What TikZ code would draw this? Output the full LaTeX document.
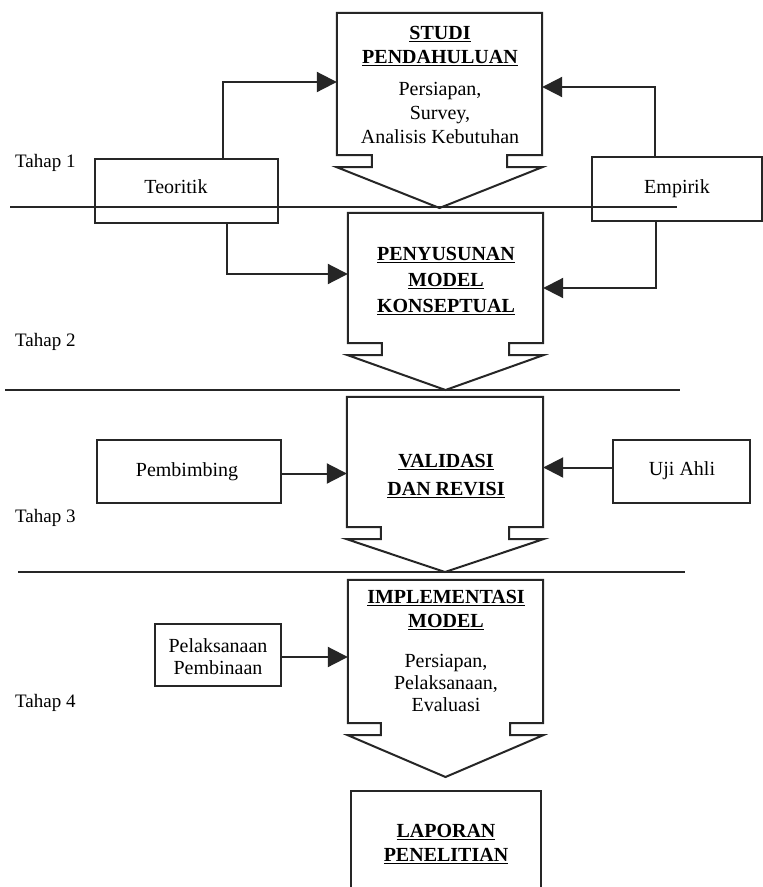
\documentclass[tikz,border=0pt]{standalone}
\usepackage{fontspec}
\setmainfont{Liberation Serif}
\usetikzlibrary{arrows.meta,calc}
\tikzset{
  stroke/.style={line width=2pt, draw=black!85},
  plainbox/.style={stroke, rectangle, inner sep=0pt},
  frame/.style={rectangle, inner sep=0pt, draw=none},
  lbl/.style={font=\fontsize{20}{24}\selectfont, align=center, inner sep=0pt},
  tahap/.style={font=\fontsize{19}{22}\selectfont, inner sep=0pt, anchor=west},
  arr/.style={stroke, -{Triangle[length=20pt,width=20pt]}},
  divider/.style={stroke},
  callout/.style={stroke, line join=miter},
}
\newcommand\hd[1]{\underline{\textbf{#1}}}
\newcommand\calloutshape[3]{%
  \draw[callout] (#1.south west) -- (#1.north west) -- (#1.north east) -- (#1.south east)
    -- ++(-#2,0) -- ++(0,12) -- ($(#1.south east)+(0,12)$) -- (#1.south |- 0,#3)
    -- ($(#1.south west)+(0,12)$) -- ++(#2,0) -- ++(0,-12) -- cycle;
}
\begin{document}
\begin{tikzpicture}[x=1pt,y=-1pt]
\useasboundingbox[fill=white] (0,0) rectangle (763,887);

% stage dividers
\coordinate (d1a) at (10,207);  \coordinate (d1b) at (677,207);
\coordinate (d2a) at (5,390);   \coordinate (d2b) at (680,390);
\coordinate (d3a) at (18,572);  \coordinate (d3b) at (685,572);
\draw[divider] (d1a) -- (d1b);
\draw[divider] (d2a) -- (d2b);
\draw[divider] (d3a) -- (d3b);

% stage labels
\node[tahap] (tp1) at (15,163) {Tahap 1};
\node[tahap] (tp2) at (15,342) {Tahap 2};
\node[tahap] (tp3) at (15,518) {Tahap 3};
\node[tahap] (tp4) at (15,703) {Tahap 4};

% main callout boxes
\node[frame, minimum width=205pt, minimum height=142pt] (b1) at (439.5,84) {};
\calloutshape{b1}{35}{208}
\node[lbl] (t1) at (440,85) {\hd{STUDI}\\ \hd{PENDAHULUAN}\\[8pt] Persiapan,\\ Survey,\\ Analisis Kebutuhan};

\node[frame, minimum width=195pt, minimum height=130pt] (b2) at (445.5,278) {};
\calloutshape{b2}{34}{390}
\node[lbl, font=\fontsize{20}{26}\selectfont] (t2) at (446,281) {\hd{PENYUSUNAN}\\ \hd{MODEL}\\ \hd{KONSEPTUAL}};

\node[frame, minimum width=196pt, minimum height=130pt] (b3) at (445,462) {};
\calloutshape{b3}{34}{572}
\node[lbl, font=\fontsize{20}{28}\selectfont] (t3) at (446,476) {\hd{VALIDASI}\\ \hd{DAN REVISI}};

\node[frame, minimum width=195pt, minimum height=143pt] (b4) at (445.5,651.5) {};
\calloutshape{b4}{33}{777}
\node[lbl, font=\fontsize{20}{22}\selectfont] (t4) at (446,651) {\hd{IMPLEMENTASI}\\[2pt] \hd{MODEL}\\[18pt] Persiapan,\\ Pelaksanaan,\\ Evaluasi};

\node[frame, minimum width=190pt, minimum height=96pt] (b5) at (446,839) {};
\draw[stroke] (b5.south west) -- (b5.north west) -- (b5.north east) -- (b5.south east);
\node[lbl] (t5) at (446,844) {\hd{LAPORAN}\\ \hd{PENELITIAN}};

% side boxes
\node[plainbox, minimum width=183pt, minimum height=64pt] (teo) at (186.5,191) {};
\node[lbl] (teot) at (176,187) {Teoritik};
\node[plainbox, minimum width=170pt, minimum height=64pt] (emp) at (677,189) {};
\node[lbl] (empt) at (677,189) {Empirik};
\node[plainbox, minimum width=184pt, minimum height=63pt] (pem) at (189,471.5) {};
\node[lbl] (pemt) at (187,472) {Pembimbing};
\node[plainbox, minimum width=137pt, minimum height=63pt] (uji) at (681.5,471.5) {};
\node[lbl] (ujit) at (682,471) {Uji Ahli};
\node[plainbox, minimum width=126pt, minimum height=62pt] (pel) at (218,655) {};
\node[lbl, font=\fontsize{20}{22}\selectfont] (pelt) at (218,657) {Pelaksanaan\\ Pembinaan};

% connectors
\draw[arr] ([xshift=36.5pt]teo.north) |- ([yshift=2pt]b1.west);
\draw[arr] ([xshift=40.5pt]teo.south) |- ([yshift=4pt]b2.west);
\draw[arr] ([xshift=-22pt]emp.north) |- ([yshift=-3pt]b1.east);
\draw[arr] ([xshift=-21pt]emp.south) |- ([yshift=-10pt]b2.east);
\draw[arr] ([yshift=-2pt]pem.east) -- ([yshift=-2pt]b3.west |- pem.east);
\draw[arr] ([yshift=4pt]uji.west) -- ([yshift=4pt]b3.east |- uji.west);
\draw[arr] ([yshift=-2pt]pel.east) -- ([yshift=-2pt]b4.west |- pel.east);
\end{tikzpicture}
\end{document}
